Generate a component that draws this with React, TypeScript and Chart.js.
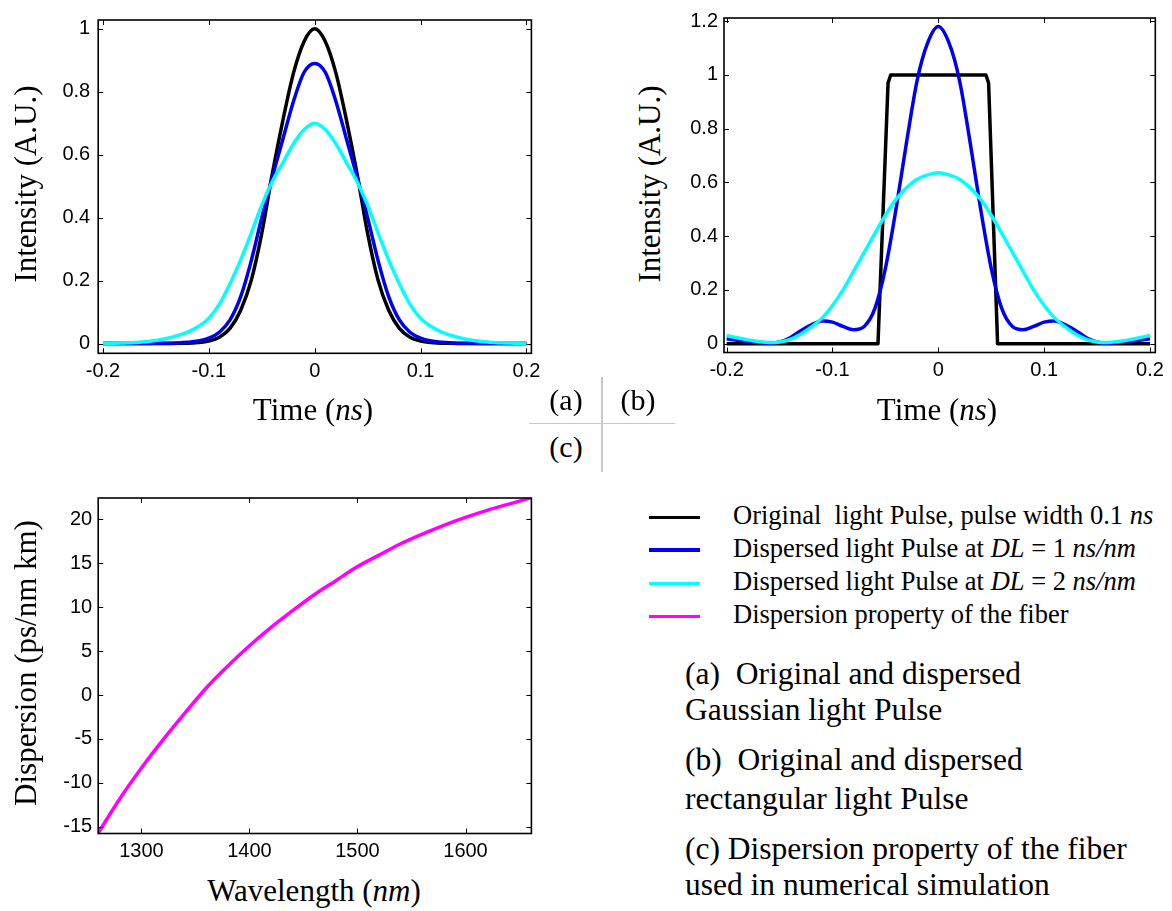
import React, { useEffect, useRef } from "react";
import { Chart, registerables } from "chart.js";

Chart.register(...registerables);

// ---------- data ----------
const TIME_NS = [-0.2, -0.19, -0.18, -0.17, -0.16, -0.15, -0.14, -0.13, -0.12, -0.11, -0.1, -0.09, -0.08, -0.07, -0.06, -0.05, -0.04, -0.03, -0.02, -0.01, 0, 0.01, 0.02, 0.03, 0.04, 0.05, 0.06, 0.07, 0.08, 0.09, 0.1, 0.11, 0.12, 0.13, 0.14, 0.15, 0.16, 0.17, 0.18, 0.19, 0.2];

// (a) Gaussian pulse
const GAUSS_ORIGINAL = [0, 0, 0, 0, 0, 0, 0, 0.001, 0.001, 0.003, 0.008, 0.02, 0.048, 0.105, 0.2, 0.35, 0.54, 0.71, 0.86, 0.96, 1, 0.96, 0.86, 0.71, 0.54, 0.35, 0.2, 0.105, 0.048, 0.02, 0.008, 0.003, 0.001, 0.001, 0, 0, 0, 0, 0, 0, 0];
const GAUSS_DL1 = [0, 0, 0, 0, 0, 0.001, 0.001, 0.002, 0.004, 0.008, 0.017, 0.036, 0.075, 0.148, 0.262, 0.4, 0.53, 0.65, 0.77, 0.862, 0.89, 0.862, 0.77, 0.65, 0.53, 0.4, 0.262, 0.148, 0.075, 0.036, 0.017, 0.008, 0.004, 0.002, 0.001, 0.001, 0, 0, 0, 0, 0];
const GAUSS_DL2 = [0, 0.001, 0.002, 0.003, 0.006, 0.01, 0.016, 0.025, 0.036, 0.054, 0.08, 0.125, 0.19, 0.265, 0.35, 0.44, 0.515, 0.575, 0.635, 0.68, 0.7, 0.68, 0.635, 0.575, 0.515, 0.44, 0.35, 0.265, 0.19, 0.125, 0.08, 0.054, 0.036, 0.025, 0.016, 0.01, 0.006, 0.003, 0.002, 0.001, 0];

// (b) rectangular pulse
const RECT_TIME = [-0.2, -0.057, -0.0475, -0.045, 0.045, 0.0475, 0.056, 0.2];
const RECT_ORIGINAL = [0, 0, 0.97, 1, 1, 0.97, 0, 0];
const RECT_DL1 = [0.018, 0.013, 0.008, 0.004, 0.001, 0.006, 0.022, 0.048, 0.07, 0.084, 0.08, 0.064, 0.052, 0.064, 0.13, 0.28, 0.5, 0.75, 0.98, 1.12, 1.18, 1.12, 0.98, 0.75, 0.5, 0.28, 0.13, 0.064, 0.052, 0.064, 0.08, 0.084, 0.07, 0.048, 0.022, 0.006, 0.001, 0.004, 0.008, 0.013, 0.018];
const RECT_DL2 = [0.03, 0.022, 0.014, 0.008, 0.004, 0.006, 0.016, 0.035, 0.062, 0.095, 0.142, 0.2, 0.27, 0.34, 0.41, 0.478, 0.537, 0.58, 0.612, 0.628, 0.636, 0.628, 0.612, 0.58, 0.537, 0.478, 0.41, 0.34, 0.27, 0.2, 0.142, 0.095, 0.062, 0.035, 0.016, 0.006, 0.004, 0.008, 0.014, 0.022, 0.03];

// (c) fiber dispersion
const WAVELENGTH_NM = [1260, 1280, 1300, 1320, 1340, 1360, 1380, 1400, 1420, 1440, 1460, 1480, 1500, 1520, 1540, 1560, 1580, 1600, 1620, 1640, 1660];
const DISPERSION = [-15.7, -11.8, -8.3, -5.1, -2.1, 0.8, 3.3, 5.6, 7.7, 9.6, 11.4, 13.0, 14.6, 15.9, 17.2, 18.3, 19.3, 20.2, 21.0, 21.7, 22.4];

// tick labels
const TIME_TICKS = [-0.2, -0.1, 0, 0.1, 0.2];
const INTENSITY_TICKS_A = [0, 0.2, 0.4, 0.6, 0.8, 1];
const INTENSITY_TICKS_B = [0, 0.2, 0.4, 0.6, 0.8, 1, 1.2];
const WAVELENGTH_TICKS = [1300, 1400, 1500, 1600];
const DISPERSION_TICKS = [-15, -10, -5, 0, 5, 10, 15, 20];

// colours
const C_BLACK = "#000000";
const C_BLUE = "#0000f0";
const C_CYAN = "#00ffff";
const C_MAGENTA = "#ff00ff";

const SERIF = '"Liberation Serif", "Times New Roman", Times, serif';
const SANS = '"Liberation Sans", Arial, Helvetica, sans-serif';

// ---------- chart helpers ----------
const framePlugin = {
  id: "matlabFrame",
  afterDatasetsDraw(chart: any) {
    const { ctx, chartArea } = chart;
    const { left, right, top, bottom } = chartArea;
    const xs = chart.scales.x;
    const ys = chart.scales.y;
    const tl = 5;
    ctx.save();
    ctx.strokeStyle = "#000";
    ctx.lineWidth = 1;
    ctx.beginPath();
    xs.ticks.forEach((t: any) => {
      const px = Math.round(xs.getPixelForValue(t.value)) + 0.5;
      ctx.moveTo(px, bottom);
      ctx.lineTo(px, bottom - tl);
      ctx.moveTo(px, top);
      ctx.lineTo(px, top + tl);
    });
    ys.ticks.forEach((t: any) => {
      const py = Math.round(ys.getPixelForValue(t.value)) + 0.5;
      ctx.moveTo(left, py);
      ctx.lineTo(left + tl, py);
      ctx.moveTo(right, py);
      ctx.lineTo(right - tl, py);
    });
    ctx.stroke();
    ctx.lineWidth = 1.6;
    ctx.strokeRect(left, top, right - left, bottom - top);
    ctx.restore();
  },
};

function line(xs: number[], ys: number[], color: string, smooth = true) {
  return {
    data: xs.map((x, i) => ({ x, y: ys[i] })),
    borderColor: color,
    backgroundColor: color,
    borderWidth: 3.5,
    pointRadius: 0,
    fill: false,
    tension: 0,
    cubicInterpolationMode: smooth ? "monotone" : "default",
    borderJoinStyle: "round",
    borderCapStyle: "butt",
  };
}

function makeConfig(o: any) {
  const tickFont = { family: SANS, size: 20 };
  return {
    type: "line",
    data: { datasets: o.datasets },
    options: {
      animation: false,
      responsive: false,
      maintainAspectRatio: false,
      devicePixelRatio: 1,
      layout: { padding: o.padding },
      plugins: { legend: { display: false }, tooltip: { enabled: false } },
      scales: {
        x: {
          type: "linear",
          min: o.xMin,
          max: o.xMax,
          grid: { display: false, drawTicks: false, tickLength: 0 },
          border: { display: false },
          afterBuildTicks: (s: any) => {
            s.ticks = o.xTicks.map((v: number) => ({ value: v }));
          },
          afterFit: (s: any) => {
            s.height = o.xAxisHeight;
          },
          ticks: {
            autoSkip: false,
            maxRotation: 0,
            padding: o.xPad,
            color: "#000",
            font: tickFont,
            callback: (v: any) => String(v),
          },
        },
        y: {
          type: "linear",
          min: o.yMin,
          max: o.yMax,
          grid: { display: false, drawTicks: false, tickLength: 0 },
          border: { display: false },
          afterBuildTicks: (s: any) => {
            s.ticks = o.yTicks.map((v: number) => ({ value: v }));
          },
          afterFit: (s: any) => {
            s.width = o.yAxisWidth;
          },
          ticks: {
            autoSkip: false,
            padding: o.yPad,
            color: "#000",
            font: tickFont,
            callback: (v: any) => String(v),
          },
        },
      },
    },
    plugins: [framePlugin],
  };
}

function PlotCanvas(props: { left: number; top: number; width: number; height: number; config: any }) {
  const ref = useRef<HTMLCanvasElement>(null);
  useEffect(() => {
    const chart = new Chart(ref.current as HTMLCanvasElement, props.config);
    return () => chart.destroy();
  }, []);
  return (
    <canvas
      ref={ref}
      width={props.width}
      height={props.height}
      style={{ position: "absolute", left: props.left, top: props.top, width: props.width, height: props.height }}
    />
  );
}

// ---------- text helpers ----------
function CText(props: { x: number; y: number; size: number; children: any }) {
  return (
    <div
      style={{
        position: "absolute",
        left: props.x,
        top: props.y - 0.09 * props.size,
        transform: "translate(-50%, -50%)",
        fontFamily: SERIF,
        fontSize: props.size,
        lineHeight: 1,
        whiteSpace: "pre",
        color: "#000",
      }}
    >
      {props.children}
    </div>
  );
}

function VText(props: { x: number; y: number; size: number; children: any }) {
  return (
    <div
      style={{
        position: "absolute",
        left: props.x - 0.09 * props.size,
        top: props.y,
        transform: "translate(-50%, -50%) rotate(-90deg)",
        fontFamily: SERIF,
        fontSize: props.size,
        lineHeight: 1,
        whiteSpace: "pre",
        color: "#000",
      }}
    >
      {props.children}
    </div>
  );
}

function LText(props: { x: number; y: number; size: number; children: any }) {
  return (
    <div
      style={{
        position: "absolute",
        left: props.x,
        top: props.y - 0.09 * props.size,
        transform: "translateY(-50%)",
        fontFamily: SERIF,
        fontSize: props.size,
        lineHeight: 1,
        whiteSpace: "pre",
        color: "#000",
      }}
    >
      {props.children}
    </div>
  );
}

function Rule(props: { x: number; y: number; w: number; h: number; color: string }) {
  return (
    <div style={{ position: "absolute", left: props.x, top: props.y, width: props.w, height: props.h, background: props.color }} />
  );
}

// ---------- configs ----------
const configA = makeConfig({
  datasets: [
    line(TIME_NS, GAUSS_DL2, C_CYAN),
    line(TIME_NS, GAUSS_DL1, C_BLUE),
    line(TIME_NS, GAUSS_ORIGINAL, C_BLACK),
  ],
  xMin: -0.2045,
  xMax: 0.2047,
  yMin: -0.031,
  yMax: 1.028,
  xTicks: TIME_TICKS,
  yTicks: INTENSITY_TICKS_A,
  padding: { top: 13.3, right: 18.6, bottom: 0, left: 0 },
  yAxisWidth: 68.2,
  xAxisHeight: 46.7,
  xPad: 6,
  yPad: 8,
});

const configB = makeConfig({
  datasets: [
    line(TIME_NS, RECT_DL2, C_CYAN),
    line(TIME_NS, RECT_DL1, C_BLUE),
    line(RECT_TIME, RECT_ORIGINAL, C_BLACK, false),
  ],
  xMin: -0.2025,
  xMax: 0.205,
  yMin: -0.033,
  yMax: 1.212,
  xTicks: TIME_TICKS,
  yTicks: INTENSITY_TICKS_B,
  padding: { top: 13.3, right: 16.7, bottom: 0, left: 0 },
  yAxisWidth: 44,
  xAxisHeight: 47.5,
  xPad: 6,
  yPad: 6,
});

const configC = makeConfig({
  datasets: [line(WAVELENGTH_NM, DISPERSION, C_MAGENTA)],
  xMin: 1260,
  xMax: 1661,
  yMin: -15.75,
  yMax: 22.4,
  xTicks: WAVELENGTH_TICKS,
  yTicks: DISPERSION_TICKS,
  padding: { top: 12.5, right: 18.6, bottom: 0, left: 0 },
  yAxisWidth: 68.2,
  xAxisHeight: 36.5,
  xPad: 6,
  yPad: 6,
});

export default function App() {
  const T = 31;
  return (
    <div style={{ position: "absolute", left: 0, top: 0, width: 1172, height: 911, background: "#fff", overflow: "hidden" }}>
      <PlotCanvas left={30} top={0} width={520} height={400} config={configA} />
      <PlotCanvas left={680} top={0} width={492} height={400} config={configB} />
      <PlotCanvas left={30} top={480} width={520} height={390} config={configC} />

      {/* axis titles */}
      <VText x={27.5} y={184} size={T}>Intensity (A.U.)</VText>
      <CText x={313} y={412} size={T}>Time (<i>ns</i>)</CText>
      <VText x={652} y={184} size={T}>Intensity (A.U.)</VText>
      <CText x={937} y={412} size={T}>Time (<i>ns</i>)</CText>
      <VText x={27.5} y={663} size={T}>Dispersion (ps/nm km)</VText>
      <CText x={314} y={893} size={T}>Wavelength (<i>nm</i>)</CText>

      {/* panel key */}
      <Rule x={601} y={377} w={1.5} h={95} color="#c8c8c8" />
      <Rule x={529} y={422.5} w={146} h={1.5} color="#c8c8c8" />
      <CText x={566} y={403} size={30}>(a)</CText>
      <CText x={638} y={403} size={30}>(b)</CText>
      <CText x={566} y={450} size={30}>(c)</CText>

      {/* legend */}
      <Rule x={648.5} y={516} w={51} h={3.3} color={C_BLACK} />
      <Rule x={648.5} y={548.3} w={51} h={3.3} color={C_BLUE} />
      <Rule x={648.5} y={581.6} w={51} h={3.3} color={C_CYAN} />
      <Rule x={648.5} y={615} w={51} h={3.3} color={C_MAGENTA} />
      <LText x={733} y={517.5} size={26.5}>Original  light Pulse, pulse width 0.1 <i>ns</i></LText>
      <LText x={733} y={550} size={26.5}>Dispersed light Pulse at <i>DL</i> = 1 <i>ns/nm</i></LText>
      <LText x={733} y={583.3} size={26.5}>Dispersed light Pulse at <i>DL</i> = 2 <i>ns/nm</i></LText>
      <LText x={733} y={616.7} size={26.5}>Dispersion property of the fiber</LText>

      {/* captions */}
      <LText x={685} y={676.7} size={31.5}>(a)  Original and dispersed</LText>
      <LText x={685} y={713.3} size={31.5}>Gaussian light Pulse</LText>
      <LText x={685} y={763.3} size={31.5}>(b)  Original and dispersed</LText>
      <LText x={685} y={801.7} size={31.5}>rectangular light Pulse</LText>
      <LText x={685} y={851.7} size={31.5}>(c) Dispersion property of the fiber</LText>
      <LText x={685} y={888.3} size={31.5}>used in numerical simulation</LText>
    </div>
  );
}
